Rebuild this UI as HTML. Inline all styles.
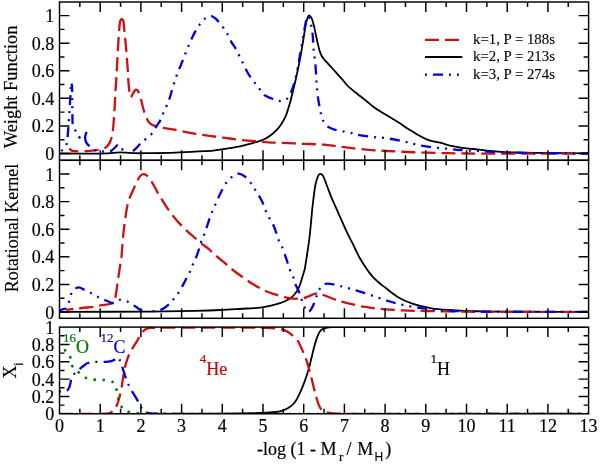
<!DOCTYPE html><html><head><meta charset="utf-8"><style>html,body{margin:0;padding:0;background:#fff;}svg{display:block;will-change:transform;filter:blur(0.3px);} text{font-family:"Liberation Serif",serif;font-size:18px;fill:#000;stroke:currentColor;stroke-width:0.18px;}</style></head><body>
<svg width="600" height="464" viewBox="0 0 600 464">
<rect width="600" height="464" fill="#fff"/>
<path d="M59.5 153.5 C59.5 153.5 98.67 153.73 108 153.3 C111.8 153.13 113.64 152.75 116 152.6 C117.86 152.48 119.33 152.4 121 152.4 C122.67 152.4 124.09 152.5 126 152.6 C128.56 152.74 131.62 153.1 135 153.2 C139.36 153.33 144.37 153.18 150 153.1 C157.28 153 166.67 152.88 175 152.6 C183.34 152.32 193.02 151.78 200 151.4 C205.04 151.12 209.34 150.97 213 150.6 C215.7 150.32 217.69 149.92 220 149.6 C222.26 149.29 224.48 149.03 226.7 148.7 C228.91 148.37 231.09 148 233.3 147.6 C235.53 147.2 237.77 146.78 240 146.3 C242.24 145.82 244.48 145.27 246.7 144.7 C248.91 144.13 251.1 143.53 253.3 142.9 C255.53 142.26 257.92 141.64 260 140.9 C261.89 140.23 263.56 139.6 265.3 138.7 C267.13 137.75 268.96 136.59 270.7 135.3 C272.53 133.94 274.41 132.3 276 130.7 C277.49 129.2 278.79 127.66 280 126 C281.22 124.33 282.29 122.5 283.3 120.7 C284.29 118.93 285.24 117.12 286 115.3 C286.73 113.55 287.19 111.91 287.8 110 C288.51 107.79 289.29 105.32 290 102.8 C290.77 100.07 291.48 97.08 292.2 94.2 C292.92 91.31 293.61 88.43 294.3 85.5 C295.01 82.53 295.73 79.5 296.4 76.5 C297.07 73.5 297.68 70.5 298.3 67.5 C298.92 64.5 299.53 61.5 300.1 58.5 C300.67 55.5 301.18 52.5 301.7 49.5 C302.22 46.5 302.72 43.5 303.2 40.5 C303.68 37.5 304.12 34.41 304.6 31.5 C305.05 28.75 305.47 25.93 306 23.5 C306.45 21.43 306.86 19.24 307.5 17.8 C307.94 16.82 308.41 15.62 309 15.5 C309.53 15.39 310.27 16.06 310.8 16.7 C311.59 17.66 312.14 19.53 312.7 21.2 C313.37 23.19 313.85 25.57 314.4 27.9 C314.99 30.42 315.53 33.18 316.1 35.8 C316.66 38.41 317.21 41.09 317.8 43.6 C318.35 45.95 318.82 48.26 319.5 50.4 C320.13 52.38 320.85 54.44 321.7 56 C322.39 57.27 323.18 58.2 324 59.2 C324.79 60.16 325.56 60.87 326.5 61.9 C327.75 63.27 329.28 65.02 330.8 66.7 C332.49 68.57 334.4 70.62 336.2 72.6 C338 74.59 339.83 76.55 341.6 78.6 C343.4 80.68 345.05 83.07 346.9 85 C348.63 86.81 350.47 88.35 352.3 89.9 C354.08 91.41 355.67 92.59 357.7 94.2 C360.32 96.27 363.94 99.08 366.7 101.3 C369.08 103.21 371.06 105.02 373.3 106.7 C375.49 108.34 377.74 109.85 380 111.3 C382.21 112.72 384.48 113.96 386.7 115.3 C388.91 116.63 391.09 117.97 393.3 119.3 C395.52 120.64 397.79 121.87 400 123.3 C402.26 124.76 404.45 126.53 406.7 128 C408.88 129.43 411.09 130.67 413.3 132 C415.52 133.34 417.74 134.77 420 136 C422.21 137.2 424.44 138.41 426.7 139.3 C428.87 140.16 431.08 140.73 433.3 141.3 C435.51 141.87 437.42 142.08 440 142.7 C443.57 143.56 448.78 145.32 452.7 146.2 C456.02 146.94 458.76 147.35 462 147.8 C465.51 148.29 468.81 148.54 473 149 C478.58 149.62 485.82 150.62 492.5 151.2 C499.53 151.81 506.23 152.21 514.2 152.5 C523.94 152.85 535.18 152.77 546.7 152.9 C559.78 153.04 588.6 153.3 588.6 153.3" fill="none" stroke="#000" stroke-width="1.8" stroke-linejoin="round"/>
<path d="M69.5 148.5 C69.5 148.5 70.66 150.05 71.5 150.5 C72.45 151.01 73.63 151.05 75 151.2 C76.93 151.4 79.59 151.36 82 151.3 C84.58 151.24 87.34 151.05 90 150.8 C92.67 150.55 95.65 150.18 98 149.8 C99.87 149.5 101.57 149.27 103 148.8 C104.15 148.42 105.1 148.07 106 147.4 C106.98 146.67 107.81 145.7 108.6 144.5 C109.6 142.98 110.51 140.94 111.2 138.8 C112.02 136.27 112.47 133.21 112.9 130.2 C113.37 126.91 113.52 123.51 113.8 119.8 C114.12 115.53 114.42 110.73 114.7 106 C114.99 100.98 115.2 95.43 115.5 90.5 C115.77 86 116.17 81.29 116.4 77.6 C116.57 74.82 116.63 73.32 116.8 70.3 C117.07 65.35 117.52 57.23 117.9 50.7 C118.28 44.17 118.59 36.63 119.1 31.1 C119.47 27.02 119.59 22.55 120.4 20.5 C120.78 19.54 121.8 18.6 121.8 18.6" fill="none" stroke="#cc1111" stroke-width="2.3" stroke-dasharray="14 6" stroke-dashoffset="4" stroke-linejoin="round"/>
<path d="M121.8 18.6 C121.8 18.6 122.82 19.54 123.2 20.5 C124 22.55 123.97 27.03 124.4 31.1 C124.98 36.64 125.73 44.16 126.3 50.7 C126.87 57.23 127.45 64.9 127.8 70.3 C128.04 74.09 128.06 76.71 128.3 80 C128.55 83.43 128.81 87.41 129.3 90.5 C129.7 93 130.1 97.08 130.8 97.2 C131.28 97.28 131.92 95.46 132.5 94.5 C133.15 93.42 133.92 91.87 134.5 91 C134.87 90.45 135.06 89.87 135.5 89.7 C135.95 89.52 136.72 89.69 137.2 90 C137.76 90.37 138.07 91.14 138.5 92 C139.17 93.34 139.91 95.47 140.5 97.4 C141.16 99.54 141.62 102 142.2 104.3 C142.78 106.6 143.27 108.92 144 111.2 C144.74 113.52 145.65 116.1 146.6 118.1 C147.38 119.74 148.05 121.23 149.1 122.4 C150.08 123.5 151.39 124.36 152.6 125 C153.7 125.58 154.7 125.86 156 126.2 C157.66 126.63 160.34 126.81 161.8 127.2 C162.72 127.44 162.97 127.73 164 128 C166.21 128.57 170.67 128.97 174.7 129.7 C180 130.66 186.88 132.33 193 133.4 C199.11 134.47 205.27 135.25 211.4 136.1 C217.51 136.95 223.6 137.73 229.7 138.5 C235.8 139.27 242.54 140.17 248 140.7 C252.42 141.13 256.37 141.29 260 141.6 C263.02 141.86 265.24 142.19 268.3 142.4 C272.06 142.66 276.1 142.71 280.9 142.9 C287.3 143.16 295.98 143.49 303.3 143.8 C310.34 144.09 317.81 144.21 324 144.7 C329.07 145.1 333.2 145.73 337.8 146.3 C342.4 146.87 348 147.64 351.6 148.1 C353.91 148.39 354.78 148.54 357.3 148.8 C362.2 149.3 371.76 150.12 379 150.6 C386.23 151.08 393.14 151.36 400.7 151.7 C408.97 152.07 418.43 152.45 426.7 152.7 C434.23 152.93 441.28 153.06 448.3 153.2 C454.97 153.33 458.53 153.43 467.8 153.5 C490.88 153.68 588.6 153.5 588.6 153.5" fill="none" stroke="#cc1111" stroke-width="2.3" stroke-dasharray="14 6" stroke-dashoffset="0" stroke-linejoin="round"/>
<path d="M59.5 152.5 C59.5 152.5 61.17 151.31 62 150.5 C63 149.53 64.18 148.22 65 147 C65.76 145.88 66.36 144.93 66.8 143.5 C67.41 141.51 67.42 138.93 67.7 136 C68.1 131.86 68.46 125.82 68.8 121 C69.12 116.51 69.42 112.33 69.7 108 C69.98 103.67 70.27 98.94 70.5 95 C70.69 91.73 70.73 88.04 71 86 C71.14 84.94 71.5 83.6 71.5 83.6" fill="none" stroke="#0000dd" stroke-width="2.3" stroke-dasharray="10 6 2 6 2 6" stroke-dashoffset="13.8" stroke-linejoin="round"/>
<path d="M80.4 138.6 C80.4 138.6 78.75 136.66 78 135.5 C77.14 134.17 76.4 132.59 75.6 131 C74.73 129.27 73.56 127.69 73 125.5 C72.27 122.62 72.53 118.81 72.4 115 C72.24 110.45 72.27 104.91 72.2 100 C72.13 95.25 72.3 88.72 72 86 C71.87 84.86 71.5 83.6 71.5 83.6" fill="none" stroke="#0000dd" stroke-width="2.3" stroke-dasharray="2 6 2 6 10 6" stroke-dashoffset="-0.6" stroke-linejoin="round"/>
<path d="M86.6 131.8 C86.6 131.8 85.37 135.03 85.2 136.5 C85.06 137.74 85.12 138.84 85.4 140 C85.71 141.27 86.31 142.72 87.1 143.8 C87.86 144.84 89.02 145.54 90 146.4 C90.99 147.27 91.88 148.25 93 149 C94.19 149.8 95.46 150.57 97 151 C98.84 151.51 101.44 151.42 103.4 151.5 C105.06 151.56 106.61 151.63 108 151.5 C109.17 151.39 110.16 151.41 111.2 150.9 C112.5 150.26 113.75 148.58 115 147.5 C116.18 146.48 117.47 144.51 118.5 144.6 C119.45 144.68 120.13 146.49 121 147.5 C121.96 148.61 122.77 150.15 124 151 C125.24 151.86 128.4 152.6 128.4 152.6" fill="none" stroke="#0000dd" stroke-width="2.3" stroke-dasharray="16 6 2 6 2 6 10 6 2 6 2 6 10 6 2 6 2 6 10 6 2 6 2 6" stroke-dashoffset="0" stroke-linejoin="round"/>
<path id="p1b" d="M128.4 152.6 C128.4 152.6 130.07 152.41 131 152 C132.3 151.43 133.9 150.3 135.3 149.1 C136.92 147.71 138.73 145.38 140 144 C140.87 143.05 141.26 142.43 142.2 141.6 C143.52 140.43 145.72 139.31 147.4 137.9 C149.19 136.4 151.15 134.66 152.6 132.8 C153.99 131.01 155 128.61 156 127 C156.74 125.82 157.28 125.12 158 124 C158.89 122.62 160.02 121.09 160.9 119.3 C161.96 117.16 162.64 114.38 163.7 111.9 C164.82 109.29 166.42 106.58 167.5 104 C168.49 101.62 169.18 99.56 170 97 C170.98 93.96 171.8 90.46 172.9 86.9 C174.16 82.85 175.69 78.09 177.2 74 C178.6 70.22 180.15 66.8 181.6 63.2 C183.05 59.6 184.37 56.15 185.9 52.4 C187.58 48.28 189.54 43.34 191.3 39.5 C192.76 36.32 194.08 33.52 195.6 30.9 C196.97 28.54 198.3 26.47 199.9 24.4 C201.53 22.3 203.36 19.87 205.3 18.4 C206.96 17.14 208.84 15.73 210.6 15.8 C212.41 15.87 214.24 17.52 216 19 C218.23 20.87 220.62 24.12 222.5 26.6 C224.15 28.78 225.44 30.66 226.8 33 C228.32 35.61 229.58 38.98 231.1 41.6 C232.47 43.96 234.03 45.74 235.4 48.1 C236.92 50.72 238.27 53.83 239.7 56.7 C241.13 59.57 242.56 62.43 244 65.3 C245.45 68.19 246.74 71.27 248.4 74 C250.02 76.66 252.07 79.28 253.8 81.5 C255.25 83.37 256.54 84.6 258 86.5 C259.78 88.82 261.35 92.55 263.6 94.5 C265.6 96.24 268.16 96.98 270.5 98 C272.8 99.01 275.46 100.13 277.5 100.6 C278.99 100.95 280.21 101.08 281.5 101 C282.74 100.93 284.02 100.73 285.1 100.2 C286.19 99.67 287.2 98.75 288 97.8 C288.8 96.85 289.29 95.68 289.9 94.5 C290.57 93.2 291.21 91.8 291.8 90.3 C292.45 88.65 293.03 86.83 293.6 85 C294.2 83.07 294.77 81.08 295.3 79 C295.87 76.76 296.4 74.42 296.9 72 C297.43 69.43 297.91 66.71 298.4 64 C298.91 61.21 299.4 58.33 299.9 55.5 C300.4 52.67 300.92 49.83 301.4 47 C301.88 44.17 302.32 41.33 302.8 38.5 C303.28 35.67 303.81 32.69 304.3 30 C304.74 27.55 305.13 25.13 305.6 23 C306 21.19 306.3 19.21 306.9 18 C307.3 17.2 307.85 16.15 308.3 16.2 C308.87 16.26 309.43 18.11 309.9 19.5 C310.62 21.62 311.12 25.21 311.6 27.9 C312.04 30.36 312.42 32.44 312.7 35 C313.02 38 313.09 41.72 313.3 44.8 C313.49 47.55 313.62 50 313.9 52.6 C314.18 55.2 314.69 57.66 315 60.4 C315.34 63.43 315.57 66.77 315.8 70 C316.04 73.3 316.19 76.85 316.4 80 C316.59 82.82 316.76 85.24 317 88 C317.26 90.96 317.47 94.05 317.9 97.2 C318.36 100.57 319.07 104.4 319.7 107.6 C320.24 110.37 320.67 112.83 321.4 115.3 C322.11 117.69 322.71 120.18 324 122.2 C325.28 124.21 327.11 126.1 329.1 127.4 C331.1 128.71 333.54 129.3 336 130 C338.7 130.77 341.81 131.13 344.7 131.7 C347.58 132.27 350.99 132.83 353.3 133.4 C354.9 133.8 355.52 134.2 357.3 134.6 C360.72 135.37 367.43 136.27 372.5 136.9 C377.56 137.53 382.66 137.67 387.7 138.4 C392.76 139.13 397.97 140.24 402.8 141.3 C407.31 142.29 411.28 143.56 415.8 144.5 C420.65 145.51 425.76 146.39 431 147.1 C436.57 147.85 443.1 148.28 448.3 148.8 C452.58 149.23 455.5 149.64 460 150 C466.12 150.48 474.47 150.82 481.7 151.2 C488.91 151.58 496.09 152.02 503.3 152.3 C510.52 152.58 517.51 152.75 525 152.9 C533.04 153.06 540.77 153.13 550 153.2 C561.47 153.28 588.6 153.3 588.6 153.3" fill="none" stroke="#0000dd" stroke-width="2.3" stroke-dasharray="10 6 2 6 2 6" stroke-dashoffset="27" stroke-linejoin="round"/>
<path d="M59.5 311.8 C59.5 311.8 125.05 311.82 150 311.6 C167.59 311.44 182.06 311.23 195 310.9 C204.82 310.65 212.28 310.4 220.9 310 C229.51 309.6 240.47 308.79 246.7 308.5 C250.23 308.33 252.36 308.42 255 308.2 C257.44 308 259.59 307.68 262 307.3 C264.58 306.89 267.2 306.43 270 305.8 C273.16 305.09 277.26 304.1 280 303.2 C281.98 302.55 283.36 301.97 285 301.2 C286.69 300.41 288.48 299.56 290 298.5 C291.47 297.48 292.82 296.27 294 295 C295.14 293.77 296.1 292.45 297 291 C297.95 289.47 298.77 287.77 299.5 286 C300.28 284.12 300.89 281.91 301.5 280 C302.05 278.26 302.5 276.67 303 275 C303.5 273.33 304.08 271.75 304.5 270 C304.96 268.1 305.2 266.36 305.6 264 C306.17 260.63 306.89 255.75 307.5 251.7 C308.09 247.75 308.7 243.93 309.2 240 C309.7 236.03 310.06 232.43 310.5 228 C311.05 222.5 311.67 214.65 312.2 209.5 C312.58 205.81 312.94 203.03 313.3 200 C313.63 197.22 313.93 194.62 314.3 192 C314.66 189.46 315.01 186.79 315.5 184.5 C315.93 182.51 316.45 180.64 317 179 C317.46 177.63 317.86 176.21 318.5 175.3 C318.99 174.62 319.61 173.89 320.2 173.8 C320.72 173.72 321.3 174.1 321.8 174.5 C322.46 175.02 323.02 175.84 323.6 176.9 C324.51 178.56 325.33 181.5 326.2 183.8 C327.07 186.1 327.86 188.28 328.8 190.7 C329.85 193.41 331.03 196.52 332.2 199.3 C333.33 201.98 334.55 204.51 335.7 207.1 C336.85 209.67 337.95 212.23 339.1 214.8 C340.25 217.39 341.37 219.87 342.6 222.6 C343.96 225.61 345.44 229.03 346.9 232.1 C348.31 235.05 349.77 237.81 351.2 240.7 C352.64 243.61 354.09 246.64 355.5 249.5 C356.85 252.23 358.15 255.05 359.5 257.5 C360.69 259.67 361.76 261.39 363.1 263.5 C364.65 265.93 366.52 268.78 368.3 271.2 C369.99 273.49 371.59 275.67 373.5 277.7 C375.45 279.77 377.8 281.75 379.9 283.5 C381.8 285.08 383.59 286.31 385.5 287.8 C387.52 289.37 389.58 291.12 391.7 292.7 C393.84 294.29 396.04 295.95 398.3 297.3 C400.48 298.6 402.74 299.69 405 300.7 C407.21 301.69 409.46 302.53 411.7 303.3 C413.89 304.06 416.08 304.7 418.3 305.3 C420.52 305.9 422.76 306.4 425 306.9 C427.23 307.4 429.47 307.93 431.7 308.3 C433.9 308.66 435.71 308.85 438.3 309.1 C441.98 309.46 447.24 309.8 451.7 310.1 C456.14 310.4 460.43 310.7 465 310.9 C469.85 311.11 474.64 311.19 480 311.3 C486.19 311.43 492.19 311.52 500 311.6 C511.05 311.71 526.02 311.75 540 311.8 C555.41 311.85 588.6 311.9 588.6 311.9" fill="none" stroke="#000" stroke-width="1.8" stroke-linejoin="round"/>
<path id="p2r" d="M66 310.2 C66 310.2 67.13 309.86 68 309.7 C69.59 309.41 72.47 309.17 74.8 308.9 C77.26 308.61 79.47 308.34 82.4 308 C86.42 307.54 93.62 306.99 96.7 306.4 C98.2 306.11 98.55 305.82 100 305.5 C102.71 304.9 109.7 304.5 111.8 303.5 C112.71 303.06 113 302.65 113.5 302 C114.1 301.22 114.6 300.17 115 299 C115.5 297.53 115.65 295.89 116 293.8 C116.53 290.67 117.07 286.28 117.7 282 C118.45 276.89 119.5 269.84 120.2 265.2 C120.7 261.92 121.2 259.46 121.5 256.8 C121.77 254.42 121.77 252.84 122 250 C122.39 245.24 123.05 236.83 123.7 230.9 C124.27 225.7 124.84 221.17 125.6 216.3 C126.37 211.4 127.06 205.86 128.3 201.6 C129.31 198.15 130.67 195.6 132 192.5 C133.42 189.21 135.1 185.36 136.6 182.4 C137.82 180 138.74 177.37 140.2 176 C141.29 174.97 142.68 174.19 143.9 174.2 C145.11 174.21 146.34 175.01 147.5 176 C149.12 177.38 150.57 179.97 152.1 182.4 C153.94 185.33 155.73 189.24 157.6 192.5 C159.4 195.63 161.24 198.66 163.1 201.6 C164.9 204.45 166.73 207.25 168.6 209.9 C170.4 212.44 172.23 214.88 174.1 217.2 C175.9 219.43 177.59 221.44 179.6 223.6 C181.82 225.99 184.4 228.57 186.9 230.9 C189.37 233.2 191.99 235.35 194.5 237.5 C196.93 239.58 199.19 241.57 201.7 243.6 C204.34 245.74 208.17 248.29 210 250 C211.03 250.97 211.14 251.47 212.2 252.5 C214.34 254.59 219.15 258.28 222.6 261.2 C226.05 264.12 229.4 267.24 232.9 270 C236.31 272.69 239.82 275.15 243.3 277.6 C246.72 280.01 250.1 282.48 253.6 284.6 C257.01 286.67 260.49 288.58 264 290.2 C267.39 291.77 270.83 293.03 274.3 294.2 C277.73 295.36 281.8 296.45 284.7 297.2 C286.75 297.73 288.21 298.15 290 298.4 C291.81 298.65 293.59 298.68 295.5 298.7 C297.58 298.72 299.9 298.87 302 298.5 C304.07 298.13 305.99 297.24 308 296.5 C310.06 295.74 312.49 294.54 314.2 294 C315.36 293.63 316.2 293.3 317.2 293.3 C318.2 293.3 319.05 293.67 320.2 294 C321.83 294.47 324.04 295.27 326 296 C328.07 296.77 330.21 297.71 332.3 298.5 C334.34 299.27 336.67 300.13 338.4 300.7 C339.66 301.12 340.3 301.31 341.7 301.7 C344.13 302.37 348.24 303.39 351.7 304.2 C355.42 305.06 359.41 306.02 363.3 306.7 C367.18 307.38 371.25 307.86 375 308.3 C378.46 308.71 381.21 308.99 385 309.3 C389.98 309.71 396.14 310.12 402.3 310.4 C409.35 310.72 416.37 310.81 425 311 C436.46 311.25 452.11 311.55 465 311.7 C477.06 311.84 485.67 311.86 500 311.9 C522.8 311.97 588.6 311.9 588.6 311.9" fill="none" stroke="#cc1111" stroke-width="2.3" stroke-dasharray="14 6" stroke-dashoffset="6.5" stroke-linejoin="round"/>
<path d="M59.7 310.6 C59.7 310.6 61.1 309.87 62 309.5 C63.22 309 65.27 309.04 66.4 308 C67.74 306.76 68.3 304.07 69 302 C69.71 299.91 69.93 297.38 70.6 295.5 C71.14 293.97 71.76 292.56 72.5 291.5 C73.1 290.66 73.81 290.1 74.5 289.5 C75.15 288.94 75.76 288.35 76.5 288 C77.25 287.65 78.04 287.31 79 287.4 C80.4 287.53 82.17 288.74 84 289.6 C86.28 290.67 89.16 292.12 91.6 293.4 C93.92 294.62 96.11 296.02 98.3 297.1 C100.31 298.09 101.99 298.82 104.2 299.7 C106.93 300.78 111.4 303.11 113.5 303 C114.61 302.94 115.12 302.26 116 301.8 C117.03 301.26 118.22 300.13 119.3 299.9 C120.21 299.71 120.97 300.03 122 300.2 C123.4 300.43 125.31 300.62 126.9 301.3 C128.65 302.05 130.44 303.78 132 304.7 C133.25 305.44 134.3 305.76 135.5 306.5 C136.92 307.37 138.39 308.96 139.9 309.7 C141.24 310.36 142.62 310.63 144 310.9 C145.35 311.16 148.1 311.3 148.1 311.3" fill="none" stroke="#0000dd" stroke-width="2.3" stroke-dasharray="10 6 2 6 2 6" stroke-dashoffset="3" stroke-linejoin="round"/>
<path id="p2b" d="M148.1 311.3 C148.1 311.3 150.67 311.28 152 311.2 C153.4 311.12 154.73 311.1 156.3 310.8 C158.28 310.43 160.8 309.96 162.9 308.9 C165.19 307.74 167.47 305.73 169.4 303.9 C171.25 302.15 172.69 300.2 174.3 298.2 C175.99 296.11 177.73 294.04 179.3 291.6 C181.05 288.89 182.75 285.37 184.2 282.6 C185.43 280.27 186.39 278.2 187.5 276.1 C188.56 274.1 189.76 272.32 190.7 270.3 C191.67 268.23 192.28 266.02 193.2 263.8 C194.2 261.4 195.46 259.07 196.5 256.4 C197.68 253.39 198.93 249.45 199.8 246.6 C200.47 244.43 200.68 242.78 201.4 240.8 C202.2 238.59 203.51 236.54 204.5 234 C205.7 230.93 206.67 227.18 207.9 223.6 C209.22 219.73 210.77 215.15 212.2 211.6 C213.37 208.7 214.47 206.53 215.7 203.8 C217.06 200.79 218.39 197.57 220 194.3 C221.78 190.69 223.87 186.11 226 183.1 C227.66 180.76 229.54 178.92 231.2 177.4 C232.51 176.2 233.74 175.14 235 174.5 C236.04 173.98 237.08 173.62 238.1 173.6 C239.08 173.58 239.99 173.89 241 174.3 C242.26 174.82 243.61 175.58 245 176.7 C246.9 178.23 249.26 180.84 251 183.1 C252.67 185.28 253.85 187.7 255.3 190 C256.75 192.3 258.38 194.56 259.7 196.9 C260.98 199.17 262.09 201.48 263.1 203.8 C264.09 206.08 264.71 208.42 265.7 210.7 C266.71 213.02 267.87 215.25 269.1 217.6 C270.42 220.11 272.22 222.78 273.4 225.3 C274.47 227.57 275.16 229.66 276 232 C276.9 234.54 277.56 237.45 278.6 240 C279.61 242.48 280.95 244.39 282.1 247.1 C283.56 250.54 285.08 255.23 286.4 259.1 C287.63 262.68 288.56 266.32 289.8 269.5 C290.89 272.29 292.42 274.77 293.3 277.2 C294.04 279.27 294.13 281 294.9 283.1 C295.84 285.67 297.74 288.79 298.8 291.4 C299.71 293.65 300.22 295.59 301 297.8 C301.84 300.18 302.78 303.02 303.7 305.2 C304.45 306.99 305.17 308.83 306 310 C306.57 310.81 307.16 311.65 307.8 311.8 C308.34 311.92 308.96 311.59 309.5 311.2 C310.22 310.68 310.87 309.6 311.5 308.6 C312.25 307.42 312.94 306.02 313.6 304.5 C314.38 302.71 315.02 300.63 315.8 298.5 C316.68 296.09 317.42 293.08 318.6 290.8 C319.67 288.74 320.85 286.5 322.4 285.3 C323.73 284.27 325.43 283.78 327 283.6 C328.56 283.42 330.08 283.92 331.8 284.2 C333.83 284.53 336.21 284.97 338.4 285.5 C340.61 286.04 342.7 286.79 345 287.4 C347.48 288.06 350.34 288.62 352.8 289.3 C355.05 289.92 356.92 290.59 359.2 291.3 C361.81 292.11 364.81 292.96 367.6 293.9 C370.41 294.85 373.14 296 376 297 C378.94 298.03 382.21 299.12 385 300 C387.39 300.76 389.48 301.33 391.7 302 C393.91 302.66 395.98 303.42 398.3 304 C400.82 304.63 403.52 305.07 406.3 305.6 C409.3 306.17 412.57 306.83 415.7 307.3 C418.8 307.76 421.62 308 425 308.4 C429.04 308.88 433.85 309.58 438.3 310 C442.75 310.42 447.24 310.68 451.7 310.9 C456.14 311.12 459.51 311.19 465 311.3 C473.9 311.48 485.67 311.6 500 311.7 C522.8 311.86 588.6 311.9 588.6 311.9" fill="none" stroke="#0000dd" stroke-width="2.3" stroke-dasharray="10 6 2 6 2 6" stroke-dashoffset="19.5" stroke-linejoin="round"/>
<defs><clipPath id="c3"><rect x="59.5" y="327.1" width="529.1" height="86.7"/></clipPath></defs><g clip-path="url(#c3)">
<path d="M59.5 413.8 C59.5 413.8 165 413.89 200 413.7 C220.88 413.59 237.09 413.52 250 413.2 C258.17 413 264.48 412.81 270 412.4 C273.91 412.11 276.92 412.05 280 411.3 C282.81 410.62 285.39 409.72 287.8 408.3 C290.3 406.82 292.77 404.85 294.7 402.5 C296.75 400 298.05 396.81 299.6 393.6 C301.33 390.01 303.03 385.84 304.5 381.9 C305.96 378 307.25 374.05 308.4 370.1 C309.54 366.19 310.41 362.23 311.4 358.3 C312.38 354.39 313.27 350.31 314.3 346.6 C315.25 343.18 316.05 339.72 317.3 336.8 C318.4 334.23 319.43 331.46 321.2 329.9 C322.79 328.5 324.95 327.98 327.1 327.5 C329.5 326.97 330.52 327.21 335 327.1 C360.36 326.46 588.6 327.1 588.6 327.1" fill="none" stroke="#000" stroke-width="1.8" stroke-linejoin="round"/>
<path id="p3r" d="M59.5 413.8 C59.5 413.8 97.57 414.25 105 413.7 C107.43 413.52 108.27 413.64 109.8 413 C111.52 412.28 113.41 410.86 114.7 409.3 C116.03 407.68 116.79 405.47 117.6 403.4 C118.44 401.25 118.97 399.03 119.6 396.6 C120.31 393.84 121.04 390.74 121.6 387.7 C122.18 384.55 122.42 381.43 123 378 C123.66 374.09 124.41 369.35 125.4 365.5 C126.28 362.09 127.27 358.93 128.5 356 C129.63 353.3 130.97 351 132.4 348.5 C133.89 345.9 135.79 343.24 137.3 340.7 C138.7 338.35 139.78 335.76 141.2 333.8 C142.41 332.12 143.67 330.48 145.1 329.5 C146.31 328.67 147.53 328.3 149 328 C150.76 327.64 152.07 327.86 155 327.8 C163.02 327.65 183.92 327.61 200 327.6 C218.56 327.59 245.36 327.37 260 327.8 C268.46 328.05 275.35 328 280 328.9 C282.59 329.4 283.99 329.97 285.9 330.9 C287.93 331.9 289.92 333.25 291.8 334.8 C293.83 336.48 295.91 338.33 297.6 340.7 C299.55 343.43 301.01 347.2 302.5 350.5 C303.97 353.74 305.34 357 306.5 360.3 C307.64 363.54 308.46 366.67 309.4 370.1 C310.43 373.84 311.41 377.97 312.4 381.9 C313.38 385.81 314.29 389.88 315.3 393.6 C316.23 397.02 317.08 400.59 318.2 403.4 C319.1 405.66 319.72 407.82 321.2 409.3 C322.68 410.78 325.09 411.61 327.1 412.3 C329 412.95 330.6 413.15 332.9 413.4 C336.19 413.76 338.4 413.69 345 413.8 C374.6 414.29 588.6 413.8 588.6 413.8" fill="none" stroke="#cc1111" stroke-width="2.3" stroke-dasharray="14 6" stroke-dashoffset="0.5" stroke-linejoin="round"/>
<path d="M59.5 391.5 C59.5 391.5 61.13 391.35 62 391.3 C62.95 391.25 64.1 391.3 65 391.2 C65.74 391.11 66.39 391.22 67 390.8 C67.88 390.2 68.72 388.49 69.3 387.2 C69.89 385.89 70.2 384.36 70.5 383 C70.78 381.74 70.76 380.48 71.1 379.3 C71.43 378.15 71.89 377.01 72.5 376 C73.1 375.01 73.94 374.15 74.7 373.3 C75.44 372.48 76.14 371.76 77 371 C77.96 370.15 79.09 369.37 80.2 368.5 C81.41 367.55 82.8 366.41 84 365.5 C85.05 364.7 85.87 363.85 87 363.3 C88.19 362.72 89.47 362.45 91 362.2 C92.99 361.87 95.59 361.87 98 361.8 C100.58 361.73 103.79 361.94 106 361.8 C107.57 361.7 108.72 361.58 110 361.3 C111.22 361.03 112.46 360.7 113.5 360.2 C114.44 359.74 115.26 359.01 116 358.5 C116.59 358.09 117.1 357.35 117.6 357.4 C118.1 357.45 118.54 358.17 119 358.8 C119.69 359.75 120.36 361.22 121 362.8 C121.85 364.92 122.54 367.81 123.4 370.5 C124.36 373.48 125.31 376.84 126.5 379.9 C127.68 382.94 129.01 385.98 130.5 388.8 C131.95 391.53 133.8 394.08 135.3 396.6 C136.69 398.93 138.01 401.2 139.2 403.4 C140.29 405.42 140.93 407.77 142.2 409.3 C143.3 410.62 144.64 411.62 146.1 412.3 C147.57 412.99 149.11 413.15 151 413.4 C153.53 413.74 154.76 413.68 160 413.8 C196.16 414.6 588.6 413.8 588.6 413.8" fill="none" stroke="#0000dd" stroke-width="2.3" stroke-dasharray="12 6 2 6" stroke-dashoffset="18.5" stroke-linejoin="round"/>
<path d="M60.3 352.6 C60.3 352.6 63.39 350.33 64.6 350.4 C65.53 350.45 66.23 351.28 67 352 C67.97 352.91 69.07 354 69.8 355.6 C70.86 357.93 70.74 362.8 71.7 365.1 C72.33 366.6 73.02 367.42 74 368.5 C75.14 369.77 76.64 370.78 78.3 372.1 C80.48 373.83 83.21 376.65 86 377.9 C88.66 379.09 91.63 379.25 94.6 379.6 C97.72 379.97 101.2 379.57 104.3 380 C107.22 380.4 110.89 380.82 112.7 382 C113.9 382.78 114.39 383.83 115 385 C115.7 386.34 116 387.83 116.5 389.7 C117.21 392.36 117.58 396.37 118.6 399.5 C119.6 402.57 120.95 406.32 122.5 408.3 C123.55 409.64 124.7 410.34 126 411 C127.33 411.68 128.63 411.93 130.4 412.3 C132.97 412.84 136.76 413.25 140 413.5 C143.29 413.75 144.21 413.71 150 413.8 C188.36 414.38 588.6 413.8 588.6 413.8" fill="none" stroke="#007700" stroke-width="2.6" stroke-dasharray="2.5 6.5" stroke-dashoffset="5" stroke-linejoin="round"/>
</g>
<rect x="59.5" y="2" width="529.1" height="158.3" fill="none" stroke="#000" stroke-width="1.45"/>
<path d="M79.85 160.3L79.85 155.3 M79.85 2L79.85 7 M100.2 160.3L100.2 150.3 M100.2 2L100.2 12 M120.55 160.3L120.55 155.3 M120.55 2L120.55 7 M140.9 160.3L140.9 150.3 M140.9 2L140.9 12 M161.25 160.3L161.25 155.3 M161.25 2L161.25 7 M181.6 160.3L181.6 150.3 M181.6 2L181.6 12 M201.95 160.3L201.95 155.3 M201.95 2L201.95 7 M222.3 160.3L222.3 150.3 M222.3 2L222.3 12 M242.65 160.3L242.65 155.3 M242.65 2L242.65 7 M263 160.3L263 150.3 M263 2L263 12 M283.35 160.3L283.35 155.3 M283.35 2L283.35 7 M303.7 160.3L303.7 150.3 M303.7 2L303.7 12 M324.05 160.3L324.05 155.3 M324.05 2L324.05 7 M344.4 160.3L344.4 150.3 M344.4 2L344.4 12 M364.75 160.3L364.75 155.3 M364.75 2L364.75 7 M385.1 160.3L385.1 150.3 M385.1 2L385.1 12 M405.45 160.3L405.45 155.3 M405.45 2L405.45 7 M425.8 160.3L425.8 150.3 M425.8 2L425.8 12 M446.15 160.3L446.15 155.3 M446.15 2L446.15 7 M466.5 160.3L466.5 150.3 M466.5 2L466.5 12 M486.85 160.3L486.85 155.3 M486.85 2L486.85 7 M507.2 160.3L507.2 150.3 M507.2 2L507.2 12 M527.55 160.3L527.55 155.3 M527.55 2L527.55 7 M547.9 160.3L547.9 150.3 M547.9 2L547.9 12 M568.25 160.3L568.25 155.3 M568.25 2L568.25 7 M59.5 153.5L69.5 153.5 M588.6 153.5L578.6 153.5 M59.5 139.71L64.5 139.71 M588.6 139.71L583.6 139.71 M59.5 125.92L69.5 125.92 M588.6 125.92L578.6 125.92 M59.5 112.13L64.5 112.13 M588.6 112.13L583.6 112.13 M59.5 98.34L69.5 98.34 M588.6 98.34L578.6 98.34 M59.5 84.55L64.5 84.55 M588.6 84.55L583.6 84.55 M59.5 70.76L69.5 70.76 M588.6 70.76L578.6 70.76 M59.5 56.97L64.5 56.97 M588.6 56.97L583.6 56.97 M59.5 43.18L69.5 43.18 M588.6 43.18L578.6 43.18 M59.5 29.39L64.5 29.39 M588.6 29.39L583.6 29.39 M59.5 15.6L69.5 15.6 M588.6 15.6L578.6 15.6" stroke="#000" stroke-width="1.45" fill="none"/>
<rect x="59.5" y="160.3" width="529.1" height="158" fill="none" stroke="#000" stroke-width="1.45"/>
<path d="M79.85 318.3L79.85 313.3 M79.85 160.3L79.85 165.3 M100.2 318.3L100.2 308.3 M100.2 160.3L100.2 170.3 M120.55 318.3L120.55 313.3 M120.55 160.3L120.55 165.3 M140.9 318.3L140.9 308.3 M140.9 160.3L140.9 170.3 M161.25 318.3L161.25 313.3 M161.25 160.3L161.25 165.3 M181.6 318.3L181.6 308.3 M181.6 160.3L181.6 170.3 M201.95 318.3L201.95 313.3 M201.95 160.3L201.95 165.3 M222.3 318.3L222.3 308.3 M222.3 160.3L222.3 170.3 M242.65 318.3L242.65 313.3 M242.65 160.3L242.65 165.3 M263 318.3L263 308.3 M263 160.3L263 170.3 M283.35 318.3L283.35 313.3 M283.35 160.3L283.35 165.3 M303.7 318.3L303.7 308.3 M303.7 160.3L303.7 170.3 M324.05 318.3L324.05 313.3 M324.05 160.3L324.05 165.3 M344.4 318.3L344.4 308.3 M344.4 160.3L344.4 170.3 M364.75 318.3L364.75 313.3 M364.75 160.3L364.75 165.3 M385.1 318.3L385.1 308.3 M385.1 160.3L385.1 170.3 M405.45 318.3L405.45 313.3 M405.45 160.3L405.45 165.3 M425.8 318.3L425.8 308.3 M425.8 160.3L425.8 170.3 M446.15 318.3L446.15 313.3 M446.15 160.3L446.15 165.3 M466.5 318.3L466.5 308.3 M466.5 160.3L466.5 170.3 M486.85 318.3L486.85 313.3 M486.85 160.3L486.85 165.3 M507.2 318.3L507.2 308.3 M507.2 160.3L507.2 170.3 M527.55 318.3L527.55 313.3 M527.55 160.3L527.55 165.3 M547.9 318.3L547.9 308.3 M547.9 160.3L547.9 170.3 M568.25 318.3L568.25 313.3 M568.25 160.3L568.25 165.3 M59.5 312L69.5 312 M588.6 312L578.6 312 M59.5 298.2L64.5 298.2 M588.6 298.2L583.6 298.2 M59.5 284.4L69.5 284.4 M588.6 284.4L578.6 284.4 M59.5 270.6L64.5 270.6 M588.6 270.6L583.6 270.6 M59.5 256.8L69.5 256.8 M588.6 256.8L578.6 256.8 M59.5 243L64.5 243 M588.6 243L583.6 243 M59.5 229.2L69.5 229.2 M588.6 229.2L578.6 229.2 M59.5 215.4L64.5 215.4 M588.6 215.4L583.6 215.4 M59.5 201.6L69.5 201.6 M588.6 201.6L578.6 201.6 M59.5 187.8L64.5 187.8 M588.6 187.8L583.6 187.8 M59.5 174L69.5 174 M588.6 174L578.6 174" stroke="#000" stroke-width="1.45" fill="none"/>
<rect x="59.5" y="327.1" width="529.1" height="86.7" fill="none" stroke="#000" stroke-width="1.45"/>
<path d="M79.85 413.8L79.85 408.8 M79.85 327.1L79.85 332.1 M100.2 413.8L100.2 403.8 M100.2 327.1L100.2 337.1 M120.55 413.8L120.55 408.8 M120.55 327.1L120.55 332.1 M140.9 413.8L140.9 403.8 M140.9 327.1L140.9 337.1 M161.25 413.8L161.25 408.8 M161.25 327.1L161.25 332.1 M181.6 413.8L181.6 403.8 M181.6 327.1L181.6 337.1 M201.95 413.8L201.95 408.8 M201.95 327.1L201.95 332.1 M222.3 413.8L222.3 403.8 M222.3 327.1L222.3 337.1 M242.65 413.8L242.65 408.8 M242.65 327.1L242.65 332.1 M263 413.8L263 403.8 M263 327.1L263 337.1 M283.35 413.8L283.35 408.8 M283.35 327.1L283.35 332.1 M303.7 413.8L303.7 403.8 M303.7 327.1L303.7 337.1 M324.05 413.8L324.05 408.8 M324.05 327.1L324.05 332.1 M344.4 413.8L344.4 403.8 M344.4 327.1L344.4 337.1 M364.75 413.8L364.75 408.8 M364.75 327.1L364.75 332.1 M385.1 413.8L385.1 403.8 M385.1 327.1L385.1 337.1 M405.45 413.8L405.45 408.8 M405.45 327.1L405.45 332.1 M425.8 413.8L425.8 403.8 M425.8 327.1L425.8 337.1 M446.15 413.8L446.15 408.8 M446.15 327.1L446.15 332.1 M466.5 413.8L466.5 403.8 M466.5 327.1L466.5 337.1 M486.85 413.8L486.85 408.8 M486.85 327.1L486.85 332.1 M507.2 413.8L507.2 403.8 M507.2 327.1L507.2 337.1 M527.55 413.8L527.55 408.8 M527.55 327.1L527.55 332.1 M547.9 413.8L547.9 403.8 M547.9 327.1L547.9 337.1 M568.25 413.8L568.25 408.8 M568.25 327.1L568.25 332.1 M59.5 405.13L64.5 405.13 M588.6 405.13L583.6 405.13 M59.5 396.46L69.5 396.46 M588.6 396.46L578.6 396.46 M59.5 387.79L64.5 387.79 M588.6 387.79L583.6 387.79 M59.5 379.12L69.5 379.12 M588.6 379.12L578.6 379.12 M59.5 370.45L64.5 370.45 M588.6 370.45L583.6 370.45 M59.5 361.78L69.5 361.78 M588.6 361.78L578.6 361.78 M59.5 353.11L64.5 353.11 M588.6 353.11L583.6 353.11 M59.5 344.44L69.5 344.44 M588.6 344.44L578.6 344.44 M59.5 335.77L64.5 335.77 M588.6 335.77L583.6 335.77" stroke="#000" stroke-width="1.45" fill="none"/>
<text x="54.3" y="160" text-anchor="end">0</text>
<text x="54.3" y="132.42" text-anchor="end">0.2</text>
<text x="54.3" y="104.84" text-anchor="end">0.4</text>
<text x="54.3" y="77.26" text-anchor="end">0.6</text>
<text x="54.3" y="49.68" text-anchor="end">0.8</text>
<text x="54.3" y="22.1" text-anchor="end">1</text>
<text x="54.3" y="318.5" text-anchor="end">0</text>
<text x="54.3" y="290.9" text-anchor="end">0.2</text>
<text x="54.3" y="263.3" text-anchor="end">0.4</text>
<text x="54.3" y="235.7" text-anchor="end">0.6</text>
<text x="54.3" y="208.1" text-anchor="end">0.8</text>
<text x="54.3" y="180.5" text-anchor="end">1</text>
<text x="54.3" y="420.3" text-anchor="end">0</text>
<text x="54.3" y="402.96" text-anchor="end">0.2</text>
<text x="54.3" y="385.62" text-anchor="end">0.4</text>
<text x="54.3" y="368.28" text-anchor="end">0.6</text>
<text x="54.3" y="350.94" text-anchor="end">0.8</text>
<text x="54.3" y="333.6" text-anchor="end">1</text>
<text x="59.5" y="432" text-anchor="middle">0</text>
<text x="100.2" y="432" text-anchor="middle">1</text>
<text x="140.9" y="432" text-anchor="middle">2</text>
<text x="181.6" y="432" text-anchor="middle">3</text>
<text x="222.3" y="432" text-anchor="middle">4</text>
<text x="263" y="432" text-anchor="middle">5</text>
<text x="303.7" y="432" text-anchor="middle">6</text>
<text x="344.4" y="432" text-anchor="middle">7</text>
<text x="385.1" y="432" text-anchor="middle">8</text>
<text x="425.8" y="432" text-anchor="middle">9</text>
<text x="466.5" y="432" text-anchor="middle">10</text>
<text x="507.2" y="432" text-anchor="middle">11</text>
<text x="547.9" y="432" text-anchor="middle">12</text>
<text x="588.6" y="432" text-anchor="middle">13</text>
<text x="257" y="455">-log (1 - M</text>
<text x="339" y="460.5" style="font-size:13px">r</text>
<text x="346.5" y="455">/</text>
<text x="357.3" y="455">M</text>
<text x="374.5" y="460.8" style="font-size:12px;stroke-width:0.1px;font-family:'Liberation Sans', sans-serif">H</text>
<text x="385.3" y="455">)</text>
<text transform="translate(16.8 86.85) rotate(-90)" text-anchor="middle" style="font-size:18.4px">Weight Function</text>
<text transform="translate(17.6 228.1) rotate(-90)" text-anchor="middle">Rotational Kernel</text>
<text transform="translate(15.5 378.5) rotate(-90)">X<tspan font-size="12" dy="7" style="font-family:'Liberation Sans', sans-serif">i</tspan></text>
<path d="M425 39.8 L462.3 39.8" fill="none" stroke="#cc1111" stroke-width="2.3" stroke-dasharray="14 6" stroke-dashoffset="0" stroke-linejoin="round"/>
<text x="473" y="43.9" style="font-size:14.8px;stroke-width:0.12px">k=1, P = 188s</text>
<path d="M425 57 L462.3 57" fill="none" stroke="#000" stroke-width="1.8" stroke-linejoin="round"/>
<text x="473" y="61.1" style="font-size:14.8px;stroke-width:0.12px">k=2, P = 213s</text>
<path d="M425 74.7 L462 74.7" fill="none" stroke="#0000dd" stroke-width="2.3" stroke-dasharray="10 6 2 6 2 6" stroke-dashoffset="24" stroke-linejoin="round"/>
<text x="473" y="78.8" style="font-size:14.8px;stroke-width:0.12px">k=3, P = 274s</text>
<text x="63" y="353.3" style="fill:#007400;stroke:#007400"><tspan style="font-size:13px" dy="-11.5">16</tspan><tspan dx="0" dy="11.5">O</tspan></text>
<text x="100.5" y="353.3" style="fill:#0000cc;stroke:#0000cc"><tspan style="font-size:13px" dy="-11.5">12</tspan><tspan dx="0" dy="11.5">C</tspan></text>
<text x="199.8" y="374.6" style="fill:#d00000;stroke:#d00000"><tspan style="font-size:13px" dy="-11.5">4</tspan><tspan dx="0" dy="11.5">He</tspan></text>
<text x="430.5" y="374.8" style="fill:#000;stroke:#000"><tspan style="font-size:13px" dy="-11.5">1</tspan><tspan dx="0" dy="11.5">H</tspan></text>
</svg></body></html>
